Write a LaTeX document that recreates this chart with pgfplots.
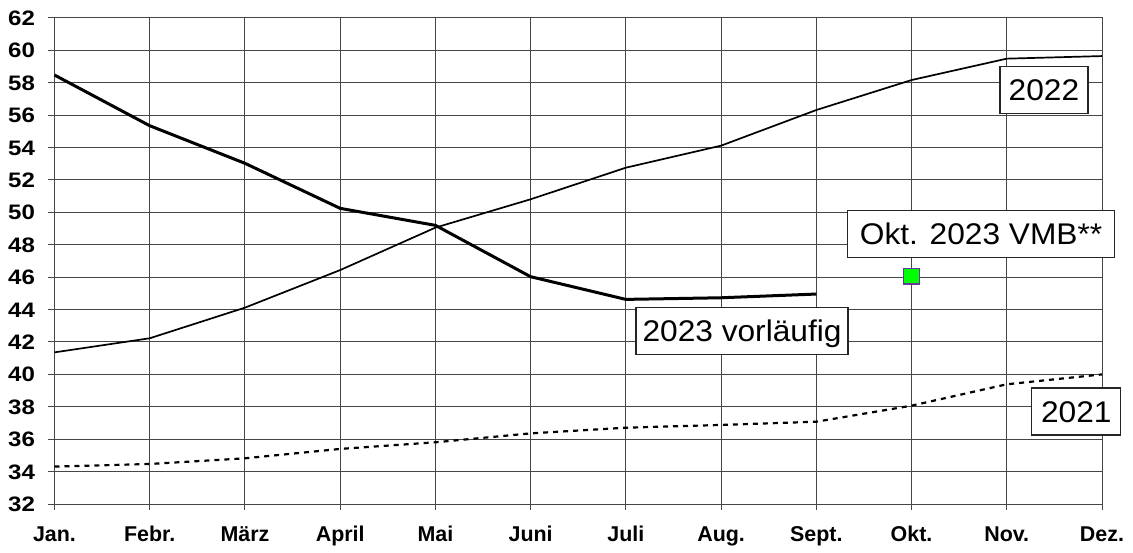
\documentclass[border=0pt]{standalone}
\usepackage{pgfplots}
\pgfplotsset{compat=1.18}
\usepackage{fontspec}
\setmainfont{Liberation Sans}
\newfontfamily\ylab[FakeStretch=1.15]{Liberation Sans}
\newfontfamily\xlab{Liberation Sans}
\newfontfamily\boxfont[FakeStretch=1.06]{Liberation Sans}
\usetikzlibrary{calc}
\definecolor{gridc}{RGB}{70,70,70}
\definecolor{mkborder}{RGB}{100,60,160}
\begin{document}
\begin{tikzpicture}[lbl/.style={draw=black!85, fill=white, line width=1.4bp, font=\boxfont\fontsize{30}{34}\selectfont, text height=21.5bp, text depth=0bp, minimum height=47bp, inner xsep=2bp}]
\begin{axis}[
  scale only axis, width=1047.5bp, height=486bp,
  xmin=0, xmax=11, ymin=32, ymax=62,
  xtick={0,...,11},
  xticklabels={Jan.,Febr.,März,April,Mai,Juni,Juli,Aug.,Sept.,Okt.,Nov.,Dez.},
  ytick={32,34,...,62},
  grid=major, major grid style={line width=1bp, gridc},
  axis line style={line width=1bp, gridc},
  tick align=outside, major tick length=6bp,
  tick style={line width=1bp, gridc},
  xtick pos=left, ytick pos=left,
  yticklabel style={font=\ylab\fontsize{21}{24}\selectfont\bfseries, text height=15bp, text depth=0bp, anchor=east, xshift=-10bp},
  xticklabel style={font=\xlab\fontsize{21.5}{25}\selectfont\bfseries, text height=15.5bp, text depth=4bp, anchor=north, yshift=-12bp},
  /pgf/number format/assume math mode=true,
  clip=false,
]
% 2021 dashed
\addplot[black, line width=2.2bp, dash pattern=on 5bp off 5bp] coordinates {
 (0,34.31) (1,34.47) (2,34.82) (3,35.40) (4,35.81) (5,36.36)
 (6,36.71) (7,36.88) (8,37.08) (9,38.07) (10,39.39) (11,40.00)};
% 2022
\addplot[black, line width=1.7bp] coordinates {
 (0,41.36) (1,42.23) (2,44.12) (3,46.44) (4,49.06) (5,50.81)
 (6,52.76) (7,54.12) (8,56.32) (9,58.17) (10,59.49) (11,59.65)};
% 2023 vorlaeufig
\addplot[black, line width=3bp] coordinates {
 (0,58.48) (1,55.35) (2,53.03) (3,50.25) (4,49.20) (5,46.03)
 (6,44.63) (7,44.73) (8,44.96)};
% Okt 2023 VMB
\addplot[only marks, mark=square*, mark size=7.8bp, mark options={fill=green, draw=mkborder, line width=1.2bp}] coordinates {(9,46.06)};

\node[lbl, minimum width=88bp] at (axis cs:10.39,57.56) {2022};
\node[lbl, minimum width=267bp] at (axis cs:9.73,48.67) {Okt. 2023 VMB**};
\node[lbl, minimum width=212bp] at (axis cs:7.22,42.68) {2023 vorläufig};
\node[lbl, minimum width=89bp] at (axis cs:10.73,37.71) {2021};
\end{axis}
\path ($(current axis.south west)+(-54.5bp,-49bp)$) rectangle ($(current axis.north east)+(31bp,18bp)$);
\end{tikzpicture}
\end{document}
